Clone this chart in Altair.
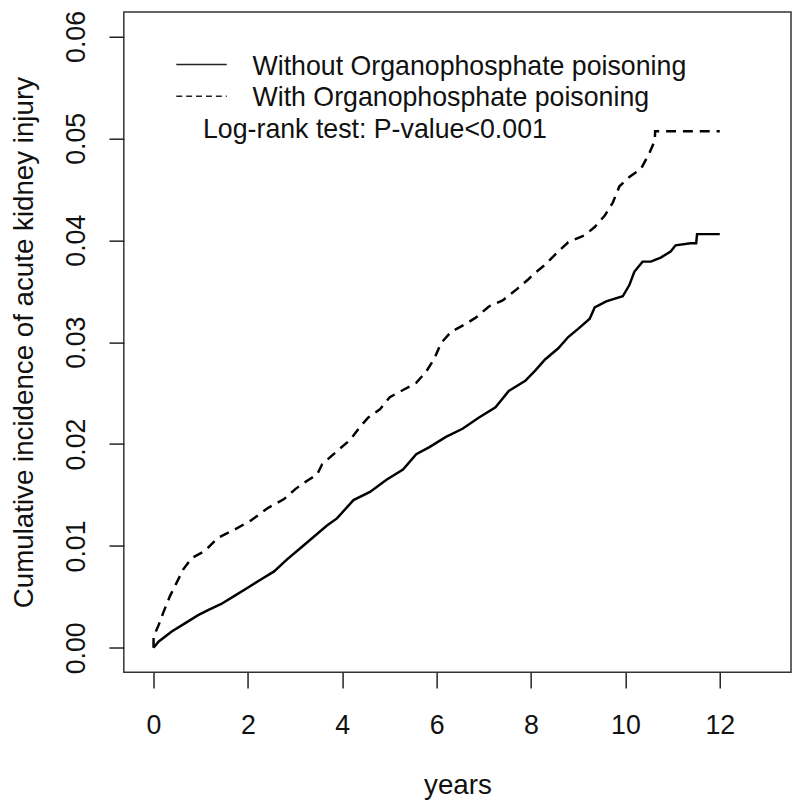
import altair as alt
import pandas as pd

# ---- data (years, cumulative incidence) ----
t_without = [0.0, 0.105, 0.385, 0.665, 0.945, 1.155, 1.435, 1.715, 1.995, 2.275, 2.555,
             2.836, 3.116, 3.396, 3.676, 3.887, 4.237, 4.587, 4.937, 5.287, 5.567, 5.847,
             6.197, 6.548, 6.898, 7.248, 7.528, 7.878, 8.088, 8.298, 8.578, 8.788, 8.998,
             9.244, 9.349, 9.594, 9.944, 10.084, 10.189, 10.364, 10.539, 10.749, 10.959,
             11.064, 11.38, 11.50, 11.519, 12.0]
v_without = [0.0, 0.0006, 0.0016, 0.0024, 0.0032, 0.0037, 0.0043, 0.0051, 0.0059, 0.0067, 0.0075,
             0.0087, 0.0098, 0.0109, 0.0120, 0.0127, 0.0145, 0.0153, 0.0165, 0.0175, 0.0190, 0.0197,
             0.0207, 0.0215, 0.0226, 0.0236, 0.0252, 0.0262, 0.0272, 0.0283, 0.0294, 0.0305, 0.0313,
             0.0323, 0.0334, 0.0340, 0.0345, 0.0356, 0.0369, 0.0379, 0.0379, 0.0383, 0.0389,
             0.0395, 0.0397, 0.0397, 0.0406, 0.0406]

t_with = [0.0, 0.0, 0.105, 0.21, 0.35, 0.49, 0.63, 0.805, 1.085, 1.366, 1.715, 2.065, 2.416,
          2.766, 3.011, 3.256, 3.466, 3.571, 3.887, 4.167, 4.377, 4.552, 4.797, 5.007, 5.287,
          5.567, 5.777, 5.953, 6.092, 6.303, 6.583, 6.828, 7.107, 7.4, 7.7, 7.95, 8.088, 8.298,
          8.578, 8.788, 9.139, 9.349, 9.559, 9.734, 9.874, 10.084, 10.33, 10.504, 10.624,
          10.63, 12.0]
v_with = [0.0, 0.0011, 0.0022, 0.0035, 0.0051, 0.0064, 0.0077, 0.0088, 0.0095, 0.0108, 0.0116,
          0.0125, 0.0137, 0.0146, 0.0156, 0.0164, 0.0170, 0.0180, 0.0193, 0.0204, 0.0217, 0.0226,
          0.0234, 0.0246, 0.0253, 0.0260, 0.0271, 0.0284, 0.0299, 0.0310, 0.0317, 0.0324, 0.0335,
          0.0341, 0.0352, 0.0362, 0.0368, 0.0376, 0.0389, 0.0398, 0.0405, 0.0413, 0.0424, 0.0437,
          0.0453, 0.0462, 0.0470, 0.0485, 0.0498, 0.0507, 0.0507]

x_ticks = [0, 2, 4, 6, 8, 10, 12]
y_ticks = [0.0, 0.01, 0.02, 0.03, 0.04, 0.05, 0.06]

legend_labels = ["Without Organophosphate poisoning", "With Organophosphate poisoning"]
test_label = "Log-rank test: P-value<0.001"

x_title = "years"
y_title = "Cumulative incidence of acute kidney injury"

W, H = 674, 667
FONT = "Liberation Sans"

df_a = pd.DataFrame({"t": t_without, "v": v_without, "i": range(len(t_without))})
df_b = pd.DataFrame({"t": t_with, "v": v_with, "i": range(len(t_with))})

xscale = alt.Scale(domain=[-0.63, 13.51], nice=False, zero=False)
yscale = alt.Scale(domain=[-0.0024, 0.0624], nice=False, zero=False)

xaxis = alt.Axis(values=x_ticks, title=x_title, grid=False, domain=False,
                 tickSize=16, tickWidth=1.5, tickColor="#222",
                 labelFontSize=27, labelFont=FONT, labelColor="#111",
                 labelBaseline="alphabetic", labelPadding=46, labelFlush=False,
                 labelOverlap=False,
                 titleFontSize=28, titleFont=FONT, titleFontWeight="normal",
                 titleColor="#111", titleBaseline="alphabetic", titleAlign="center",
                 titleX=W / 2, titleY=122)
yaxis = alt.Axis(values=y_ticks, format=".2f", title=y_title, grid=False, domain=False,
                 tickSize=15, tickWidth=1.5, tickColor="#222",
                 labelFontSize=27, labelFont=FONT, labelColor="#111",
                 labelAngle=270, labelAlign="center", labelBaseline="alphabetic",
                 labelPadding=25, labelFlush=False, labelOverlap=False,
                 titleFontSize=28, titleFont=FONT, titleFontWeight="normal",
                 titleColor="#111", titleAngle=270, titleBaseline="alphabetic",
                 titleAlign="center", titleX=-92, titleY=H / 2)

line_a = alt.Chart(df_a).mark_line(color="black", strokeWidth=2.5).encode(
    x=alt.X("t:Q", scale=xscale, axis=xaxis),
    y=alt.Y("v:Q", scale=yscale, axis=yaxis),
    order="i:Q",
)
line_b = alt.Chart(df_b).mark_line(color="black", strokeWidth=2.5, strokeDash=[10, 7]).encode(
    x=alt.X("t:Q", scale=xscale),
    y=alt.Y("v:Q", scale=yscale),
    order="i:Q",
)

one = pd.DataFrame({"k": [0]})
leg_solid = alt.Chart(one).mark_rule(color="#222", strokeWidth=1.5).encode(
    x=alt.value(53), x2=alt.value(104), y=alt.value(53))
leg_dash = alt.Chart(one).mark_rule(color="#222", strokeWidth=1.5, strokeDash=[6, 4]).encode(
    x=alt.value(53), x2=alt.value(104), y=alt.value(85))

def txt(label, x, y):
    return alt.Chart(pd.DataFrame({"label": [label]})).mark_text(
        align="left", baseline="alphabetic", fontSize=27, font=FONT, color="#111"
    ).encode(x=alt.value(x), y=alt.value(y), text="label:N")

leg_t1 = txt(legend_labels[0], 130, 64)
leg_t2 = txt(legend_labels[1], 130, 95)
leg_t3 = txt(test_label, 80, 127)

chart = alt.layer(line_a, line_b, leg_solid, leg_dash, leg_t1, leg_t2, leg_t3).properties(
    width=W, height=H,
    autosize=alt.AutoSizeParams(type="none"),
    padding={"left": 117, "top": 0, "right": 1, "bottom": 125},
    background="white",
).configure_view(stroke="#333", strokeWidth=1.5)

chart.save("out.html", embed_options={"renderer": "svg", "actions": False})
